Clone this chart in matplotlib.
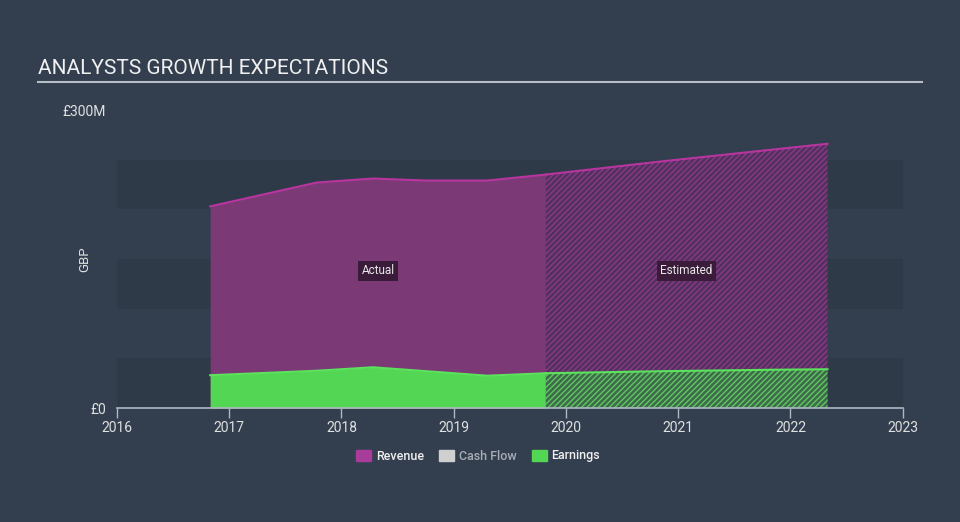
import matplotlib.pyplot as plt
from matplotlib.patches import Patch

plt.rcParams['font.family'] = ['Roboto', 'DejaVu Sans']
plt.rcParams['hatch.linewidth'] = 1.0

# data (GBP millions)
rev_dates = [2016.83, 2017.78, 2018.28, 2018.76, 2019.30, 2019.82]
rev_values = [203, 227, 231, 229, 229, 235]
earn_dates = [2016.83, 2017.78, 2018.28, 2018.76, 2019.30, 2019.82]
earn_values = [33, 37.5, 41, 37, 32.5, 35]

est_dates = [2019.82, 2020.83, 2021.83, 2022.33]
est_rev = [235, 248, 260, 266]
est_earn = [35, 37, 38.5, 39]

years = [2016, 2017, 2018, 2019, 2020, 2021, 2022, 2023]

bg = '#333f4f'
band = '#2e3a48'
rev_line = '#b8359f'
rev_fill = '#7b3a76'
earn_line = '#5be35b'
earn_fill = '#52d654'

fig = plt.figure(figsize=(9.6, 5.22), dpi=100)
fig.patch.set_facecolor(bg)
ax = fig.add_axes([117 / 960, 114 / 522, 785.7 / 960, 298 / 522])
ax.set_facecolor(bg)

for lo in (0, 100, 200):
    ax.axhspan(lo, lo + 50, color=band, lw=0, zorder=0)

# actual
ax.fill_between(rev_dates, rev_values, color=rev_fill, lw=0, zorder=2)
ax.plot(rev_dates, rev_values, color=rev_line, lw=1.5, zorder=3)
ax.fill_between(earn_dates, earn_values, color=earn_fill, lw=0, zorder=4)
ax.plot(earn_dates, earn_values, color=earn_line, lw=1.5, zorder=5)

# estimated (hatched)
ax.fill_between(est_dates, est_rev, facecolor='#523060', edgecolor='#8a3a84',
                hatch='//////', lw=0, zorder=2)
ax.plot(est_dates, est_rev, color=rev_line, lw=1.5, zorder=3)
ax.fill_between(est_dates, est_earn, facecolor='#3e6a4c', edgecolor='#5fc860',
                hatch='//////', lw=0, zorder=4)
ax.plot(est_dates, est_earn, color=earn_line, lw=1.5, zorder=5)

lbl_y = 138
for txt, xs in (('Actual', rev_dates), ('Estimated', est_dates)):
    ax.text((xs[0] + xs[-1]) / 2, lbl_y, txt, ha='center', va='center',
            color='#e8e8e8', fontsize=8.5, zorder=6,
            bbox=dict(boxstyle='square,pad=0.3', fc='#3a1c3a', ec='none'))

ax.set_xlim(2016, 2023)
ax.set_ylim(0, 300)
ax.set_xticks(years)
ax.set_xticklabels([str(y) for y in years])
ax.set_yticks([0, 300])
ax.set_yticklabels(['£0', '£300M'])
ax.tick_params(axis='x', colors='#b0b8c4', labelcolor='#e0e0e0', labelsize=10,
               length=7, width=1, direction='out', pad=2)
ax.tick_params(axis='y', length=0, labelcolor='#e0e0e0', labelsize=10, pad=8)
for s in ('top', 'right', 'left'):
    ax.spines[s].set_visible(False)
ax.spines['bottom'].set_color('#b0b8c4')
ax.spines['bottom'].set_linewidth(1.2)
ax.spines['bottom'].set_zorder(7)
ax.set_ylabel('GBP', color='#e0e0e0', fontsize=9.5)
ax.yaxis.set_label_coords(-0.033, 0.5)

fig.text(38 / 960, 1 - 68 / 522, 'ANALYSTS GROWTH EXPECTATIONS', color='#f0f0f0',
         fontsize=15, va='center', ha='left')
fig.add_artist(plt.Line2D([38 / 960, 922 / 960], [1 - 82 / 522, 1 - 82 / 522],
                          color='#b8bec6', lw=1.5))

handles = [Patch(color='#a93c9a', label='Revenue'),
           Patch(color='#cfcfcf', label='Cash Flow'),
           Patch(color=earn_fill, label='Earnings')]
leg = fig.legend(handles=handles, loc='center', bbox_to_anchor=(478 / 960, 1 - 456 / 522),
                 ncol=3, frameon=False, fontsize=9, handlelength=1.2, handleheight=1.0,
                 handletextpad=0.4, columnspacing=1.2)
for t, c in zip(leg.get_texts(), ['#f0f0f0', '#a8adb4', '#f0f0f0']):
    t.set_color(c)
    t.set_fontweight('medium')

fig.savefig('out.png', dpi=100, facecolor=bg)
